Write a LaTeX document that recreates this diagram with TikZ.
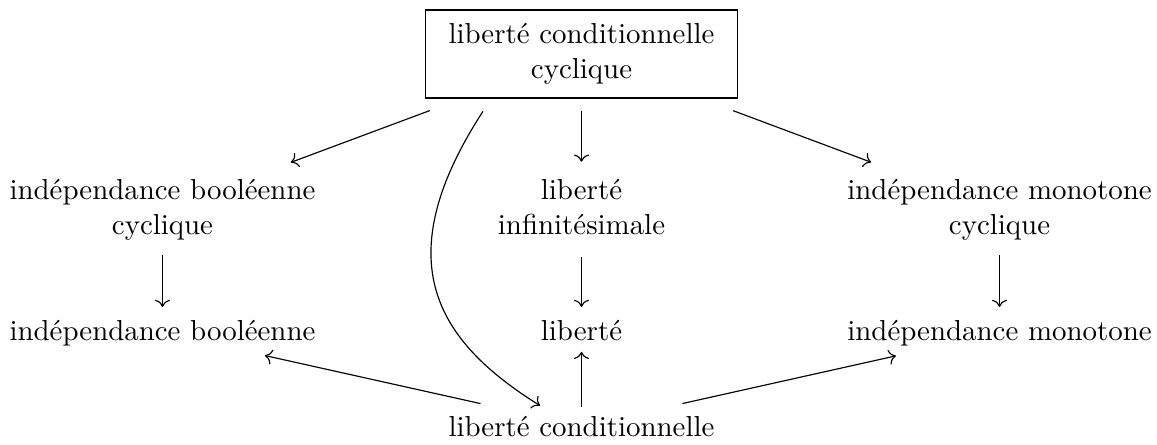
\documentclass[tikz,border=0pt]{standalone}
\usetikzlibrary{cd,calc}
\begin{document}
\begin{tikzpicture}[x=0.346pt,y=0.346pt,
  lbl/.style={inner sep=3.33pt,align=center},
  arr/.style={-{cm to},line width=0.4pt},
  boxnode/.style={draw,line width=0.4pt,align=center,minimum width=108pt,minimum height=30.45pt,inner sep=2pt}]
\useasboundingbox (0,0) rectangle (1157,-444);
\node[boxnode] (top) at (581.5,-54) {libert\'e conditionnelle\\cyclique};
\node[lbl] (bl) at (162.5,-210.2) {ind\'ependance bool\'eenne\\cyclique};
\node[lbl] (im) at (581.5,-207.4) {libert\'e\\infinit\'esimale};
\node[lbl] (mr) at (999.5,-210.2) {ind\'ependance monotone\\cyclique};
\node[lbl,anchor=base] (b3) at (162.5,-340) {ind\'ependance bool\'eenne};
\node[lbl,anchor=base] (l3) at (581.5,-340) {libert\'e};
\node[lbl,anchor=base] (m3) at (999.5,-340) {ind\'ependance monotone};
\node[lbl,anchor=base] (bot) at (581.5,-436) {libert\'e conditionnelle};
\draw[arr,shorten <=56pt,shorten >=47.4pt] (top.center) -- (bl.center);
\draw[arr,shorten <=56pt,shorten >=47.4pt] (top.center) -- (mr.center);
\draw[arr,shorten <=19.6pt,shorten >=15.8pt] (top.center) -- (im.center);
\draw[arr,shorten <=15.5pt,shorten >=8.9pt] (bl.center) -- (b3.center);
\draw[arr,shorten <=17.2pt,shorten >=8pt] (im.center) -- (l3.center);
\draw[arr,shorten <=15.5pt,shorten >=8.9pt] (mr.center) -- (m3.center);
\draw[arr,shorten <=35.8pt,shorten >=36.3pt] (bot.center) -- (b3.center);
\draw[arr,shorten <=35.8pt,shorten >=36.7pt] (bot.center) -- (m3.center);
\draw[arr,shorten <=6.7pt,shorten >=7.5pt] (bot.center) -- (l3.center);
\draw[arr] ([shift={(-98.5,-12.7)}]top.south) to[out=237,in=148,out distance=62pt,in distance=42pt] ([shift={(-41.5,0)}]bot.north);
\end{tikzpicture}
\end{document}
